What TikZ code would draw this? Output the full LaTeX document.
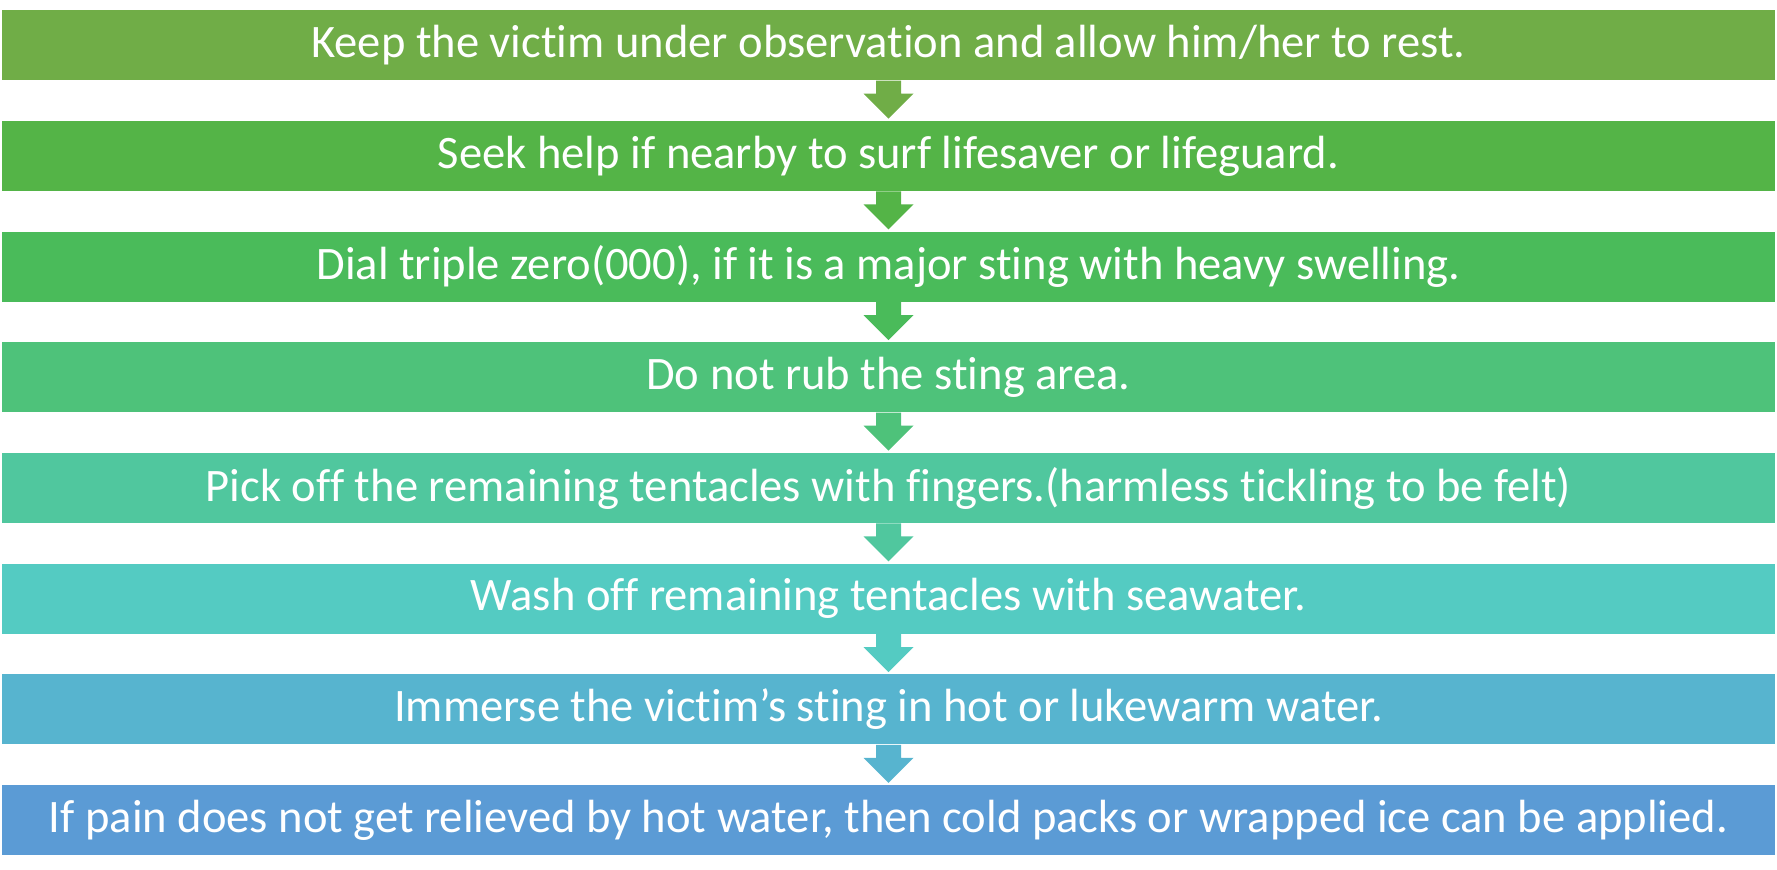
\documentclass[tikz,border=0pt]{standalone}
\usepackage{fontspec}
\setmainfont{Carlito}[Ligatures={NoCommon}]
\usetikzlibrary{positioning, calc}

\definecolor{cone}{HTML}{70AD47}
\definecolor{ctwo}{HTML}{54B447}
\definecolor{cthree}{HTML}{4ABB5A}
\definecolor{cfour}{HTML}{4EC27A}
\definecolor{cfive}{HTML}{50C79E}
\definecolor{csix}{HTML}{54CBC2}
\definecolor{cseven}{HTML}{57B4CF}
\definecolor{ceight}{HTML}{5B9BD5}

\begin{document}
\begin{tikzpicture}[x=0.02cm, y=-0.02cm,
  stepbox/.style={minimum width=35.46cm, minimum height=1.4cm, inner sep=0pt,
    text=white, font=\fontsize{26.5}{30}\selectfont},
  next/.style={below=0.8cm of #1}]
  \useasboundingbox (0,0) rectangle (1777,869);

  % steps
  \node[stepbox, fill=cone, anchor=north] (s1) at (888.5,10)
    {Keep the victim under observation and allow him/her to rest.};
  \node[stepbox, fill=ctwo, next=s1] (s2)
    {Seek help if nearby to surf lifesaver or lifeguard.};
  \node[stepbox, fill=cthree, next=s2] (s3)
    {Dial triple zero(000), if it is a major sting with heavy swelling.};
  \node[stepbox, fill=cfour, next=s3] (s4)
    {Do not rub the sting area.};
  \node[stepbox, fill=cfive, next=s4] (s5)
    {Pick off the remaining tentacles with fingers.(harmless tickling to be felt)};
  \node[stepbox, fill=csix, next=s5] (s6)
    {Wash off remaining tentacles with seawater.};
  \node[stepbox, fill=cseven, next=s6] (s7)
    {Immerse the victim’s sting in hot or lukewarm water.};
  \node[stepbox, fill=ceight, next=s7] (s8)
    {If pain does not get relieved by hot water, then cold packs or wrapped ice can be applied.};

  % block arrows
  \foreach \a/\b/\c in {s1/s2/cone, s2/s3/ctwo, s3/s4/cthree, s4/s5/cfour,
                        s5/s6/cfive, s6/s7/csix, s7/s8/cseven}
    \fill[\c] ($(\a.south)+(-12.5,0)$) -- ++(0,13) -- ++(-12.5,0)
      -- ($(\b.north)+(0,-2)$) -- ++(25,-25) -- ++(-12.5,0) -- ++(0,-13) -- cycle;

\end{tikzpicture}
\end{document}
